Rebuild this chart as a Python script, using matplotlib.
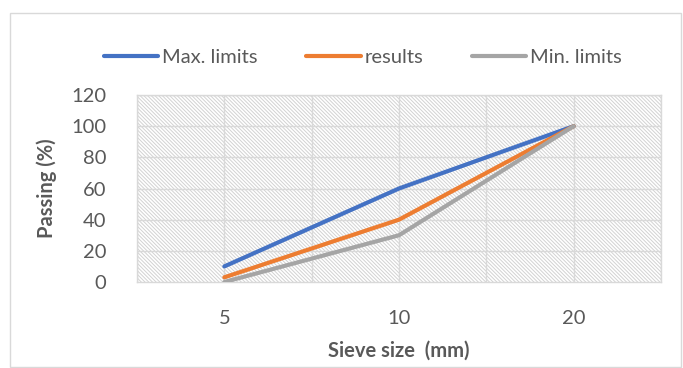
import matplotlib
matplotlib.use('Agg')
import matplotlib.pyplot as plt
import numpy as np
from matplotlib.patches import Rectangle

# Dados da curva granulométrica
sieve_sizes = ['5', '10', '20']
max_limits = [10, 60, 100]
results = [3, 40, 100]
min_limits = [0, 30, 100]

plt.rcParams['font.family'] = ['Lato', 'DejaVu Sans']
plt.rcParams['hatch.linewidth'] = 0.7
text_color = '#595959'
grid_color = '#d9d9d9'

fig = plt.figure(figsize=(6.83, 3.68), dpi=100)

# Borda externa do gráfico
fig.patches.append(Rectangle((10 / 683, 0.002), 671 / 683, 1 - 13 / 368 - 0.002,
                             transform=fig.transFigure, fill=False,
                             edgecolor=grid_color, linewidth=1))

ax = fig.add_axes([137 / 683, 1 - 282 / 368, 524 / 683, 187 / 368])

# Fundo hachurado da área de plotagem
ax.add_patch(Rectangle((0, 0), 1, 1, transform=ax.transAxes, facecolor='white',
                       edgecolor='#d2d2d2', hatch='\\' * 9, linewidth=0, zorder=0))

x = np.arange(len(sieve_sizes))
ax.plot(x, max_limits, color='#4472C4', lw=3, label='Max. limits', solid_capstyle='round', zorder=3)
ax.plot(x, results, color='#ED7D31', lw=3, label='results', solid_capstyle='round', zorder=3)
ax.plot(x, min_limits, color='#A5A5A5', lw=3, label='Min. limits', solid_capstyle='round', zorder=3)

ax.set_xlim(-0.5, len(sieve_sizes) - 0.5)
ax.set_ylim(0, 120)
ax.set_yticks(np.arange(0, 121, 20))
ax.set_xticks(x)
ax.set_xticklabels(sieve_sizes)

# Grade
for yv in np.arange(20, 121, 20):
    ax.axhline(yv, color=grid_color, lw=1, zorder=1)
for xv in np.arange(-0.5, len(sieve_sizes), 0.5):
    ax.axvline(xv, color=grid_color, lw=1, zorder=1)

for s in ax.spines.values():
    s.set_color(grid_color)
    s.set_linewidth(1)

ax.tick_params(axis='both', which='both', length=0, labelsize=14.5, labelcolor=text_color)
ax.tick_params(axis='y', pad=22)
ax.tick_params(axis='x', pad=20)

ax.set_xlabel('Sieve size  (mm)', fontsize=14.5, fontweight='bold', color=text_color, labelpad=10)
ax.set_ylabel('Passing (%)', fontsize=14.5, fontweight='bold', color=text_color, labelpad=10)

fig.legend(loc='center', bbox_to_anchor=(363 / 683, 1 - 57 / 368), ncol=3,
           frameon=False, fontsize=14.5, handlelength=2.7, handletextpad=0.2,
           columnspacing=2.4, labelcolor=text_color)

fig.savefig('out.png', dpi=100)
